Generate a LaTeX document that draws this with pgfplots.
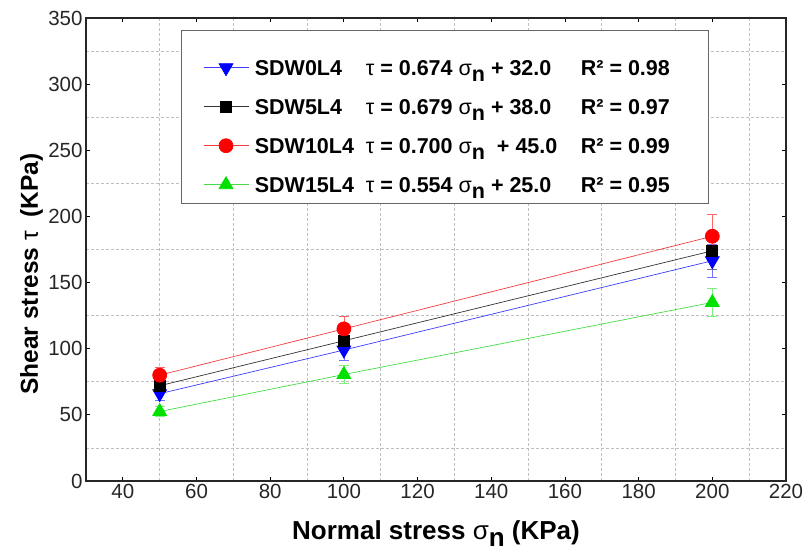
\documentclass[border=0pt]{standalone}
\usepackage{pgfplots}
\usepackage{pgfplotstable}
\pgfplotsset{compat=1.18}
\usepackage{fontspec}
\setmainfont{Liberation Sans}
\definecolor{mgreen}{RGB}{0,225,0}
\definecolor{lgreen}{RGB}{70,220,70}
\definecolor{lblue}{RGB}{60,60,255}
\definecolor{lred}{RGB}{245,60,60}

\pgfplotstableread{
x y e
50 66 5
100 99 8
200 166.5 12.5
}\sdwzero
\pgfplotstableread{
x y e
50 72 4
100 106 7
200 174 14
}\sdwfive
\pgfplotstableread{
x y e
50 80 6
100 115 9.5
200 185 16.5
}\sdwten
\pgfplotstableread{
x y e
50 52.5 4
100 80.5 7
200 135 10.5
}\sdwfifteen

\newcommand{\sn}{{\mdseries σ}\raisebox{-0.3em}{n}}
\newcommand{\tu}{{\mdseries τ}}

\begin{document}
\begin{tikzpicture}
\begin{axis}[
  scale only axis, width=700pt, height=463pt,
  xmin=30, xmax=220, ymin=0, ymax=350,
  xtick={40,60,...,220}, ytick={0,50,...,350},
  minor xtick={50,70,...,210}, minor ytick={25,75,...,325},
  xminorgrids, yminorgrids,
  minor grid style={densely dashed, black!25, line width=0.6pt},
  minor tick length=0pt, major tick length=4pt,
  tick style={black, line width=0.8pt},
  axis line style={line width=1.6pt, black!85},
  /pgf/number format/assume math mode=true,
  ticklabel style={font=\fontsize{20.5}{20.5}\selectfont, black!85},
  xlabel={Normal stress \sn\ (KPa)},
  ylabel={Shear stress \tu\ \ (KPa)},
  xlabel style={font=\bfseries\fontsize{26}{26}\selectfont, at={(rel axis cs:0.5,-0.1253)}, anchor=base},
  ylabel style={font=\bfseries\fontsize{24.5}{24.5}\selectfont, at={(rel axis cs:-0.0686,0.447)}, anchor=base},
  legend image code/.code={
    \draw[mark repeat=2,mark phase=2,#1] plot coordinates {(0pt,0pt) (22.5pt,0pt) (45pt,0pt)};
  },
  legend cell align=left,
  legend style={at={(rel axis cs:0.1671,0.9179)}, anchor=north west,
    draw=none, fill=none, inner sep=0pt, row sep=16pt, column sep=6pt,
    font=\bfseries\fontsize{21.5}{21.5}\selectfont,
    nodes={inner sep=0pt, text height=19pt, text depth=4pt}},
]
\draw[black!60, line width=0.8pt, fill=white] (rel axis cs:0.1357,0.974) rectangle (rel axis cs:0.8886,0.6004);

\addplot[lblue, line width=0.7pt, mark=triangle*, mark size=8pt,
  mark options={solid, fill=blue, draw=blue, rotate=180},
  error bars/.cd, y dir=both, y explicit,
  error bar style={blue!55, line width=0.7pt},
  error mark options={rotate=90, blue!55, mark size=5pt, line width=0.7pt}]
  table[x=x, y=y, y error=e] {\sdwzero};
\addlegendentry{\makebox[111pt][l]{SDW0L4}\makebox[215pt][l]{\tu\ = 0.674 \sn\ + 32.0}R² = 0.98}

\addplot[black!80, line width=0.7pt, mark=square*, mark size=5.5pt,
  mark options={solid, fill=black, draw=black},
  error bars/.cd, y dir=both, y explicit,
  error bar style={black!55, line width=0.7pt},
  error mark options={rotate=90, black!55, mark size=5pt, line width=0.7pt}]
  table[x=x, y=y, y error=e] {\sdwfive};
\addlegendentry{\makebox[111pt][l]{SDW5L4}\makebox[215pt][l]{\tu\ = 0.679 \sn\ + 38.0}R² = 0.97}

\addplot[lred, line width=0.7pt, mark=*, mark size=7pt,
  mark options={solid, fill=red, draw=red},
  error bars/.cd, y dir=both, y explicit,
  error bar style={red!60, line width=0.7pt},
  error mark options={rotate=90, red!60, mark size=5pt, line width=0.7pt}]
  table[x=x, y=y, y error=e] {\sdwten};
\addlegendentry{\makebox[111pt][l]{SDW10L4}\makebox[215pt][l]{\tu\ = 0.700 \sn\ \ + 45.0}R² = 0.99}

\addplot[lgreen, line width=0.7pt, mark=triangle*, mark size=8pt,
  mark options={solid, fill=mgreen, draw=mgreen},
  error bars/.cd, y dir=both, y explicit,
  error bar style={mgreen!50, line width=0.7pt},
  error mark options={rotate=90, mgreen!50, mark size=5pt, line width=0.7pt}]
  table[x=x, y=y, y error=e] {\sdwfifteen};
\addlegendentry{\makebox[111pt][l]{SDW15L4}\makebox[215pt][l]{\tu\ = 0.554 \sn\ + 25.0}R² = 0.95}
\end{axis}
\pgfresetboundingbox
\useasboundingbox (current axis.south west) ++(-86pt,-72pt) rectangle ++(805pt,553pt);
\end{tikzpicture}
\end{document}
